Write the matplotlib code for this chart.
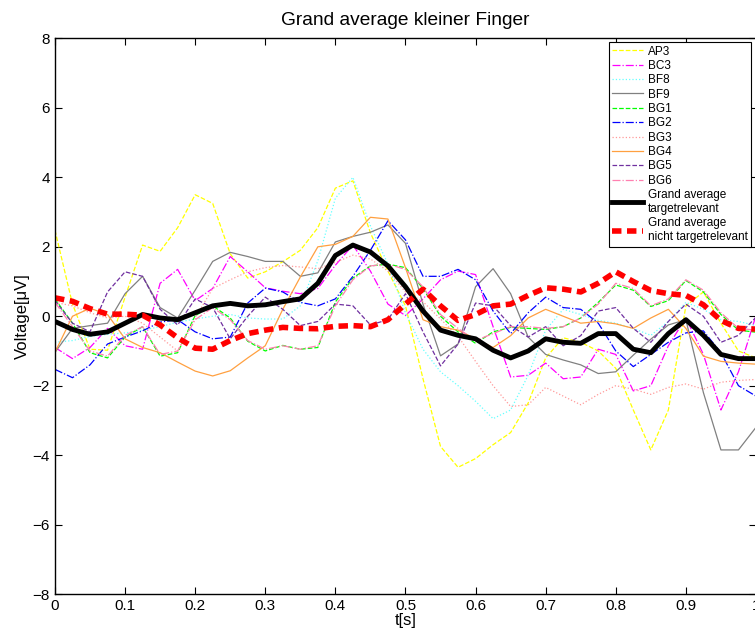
import matplotlib
matplotlib.use("Agg")
import matplotlib.pyplot as plt
import numpy as np

plt.rcParams["font.family"] = ["Liberation Sans", "DejaVu Sans"]

# time axis, sampled every 25 ms
t = np.linspace(0, 1, 41)

ap3 = [2.48, 0.35, -0.95, -0.98, 0.55, 2.05, 1.87, 2.55, 3.5, 3.25, 1.8, 1.1, 1.28, 1.57,
       1.9, 2.55, 3.69, 3.9, 2.4, 1.3, 0.3, -1.8, -3.75, -4.35, -4.1, -3.7, -3.35, -2.5,
       -1.2, -0.62, -0.75, -1.0, -1.5, -2.7, -3.85, -2.7, 0.3, 0.7, -0.2, -1.0, -1.2]
bc3 = [-0.9, -1.22, -0.9, -0.35, -0.85, -0.95, 0.95, 1.35, 0.45, 0.8, 1.72, 1.28, 0.82, 0.72,
       0.65, 0.8, 1.47, 2.05, 1.3, 0.35, 0.02, 0.5, 1.05, 1.3, 1.2, -0.3, -1.75, -1.7,
       -1.35, -1.8, -1.75, -0.95, -1.1, -2.15, -2.0, -0.85, -0.05, -1.1, -2.7, -1.6, 0.02]
bf8 = [-0.75, -0.7, -0.58, -0.52, -0.48, -0.4, -0.3, -0.17, -0.08, 0.0, 0.05, -0.05, -0.08, -0.08,
       0.3, 1.6, 3.4, 4.0, 2.6, 1.5, 0.1, -0.95, -1.6, -2.0, -2.45, -2.95, -2.7, -1.7,
       -0.4, 0.2, 0.05, -0.12, -0.2, -0.35, -0.55, -0.15, 0.4, 0.2, -0.1, -0.15, -0.27]
bf9 = [-1.04, -0.35, -0.27, -0.2, 0.65, 1.15, 0.25, -0.05, 0.75, 1.58, 1.84, 1.72, 1.58, 1.58,
       1.15, 1.25, 2.14, 2.3, 2.42, 2.63, 2.1, 0.35, -1.14, -0.8, 0.85, 1.37, 0.65, -0.6,
       -1.1, -1.26, -1.4, -1.65, -1.6, -1.12, -0.66, -0.25, -0.1, -2.2, -3.85, -3.85, -3.2]
bg1 = [0.5, -0.2, -1.05, -1.2, -0.6, -0.3, -1.15, -1.05, 0.02, 0.3, -0.05, -0.72, -1.0, -0.84,
       -0.95, -0.9, 0.41, 1.1, 1.45, 1.5, 1.4, 0.8, 0.0, -0.45, -0.78, -0.45, -0.32, -0.35,
       -0.38, -0.3, -0.05, 0.4, 0.9, 0.75, 0.28, 0.45, 1.03, 0.7, 0.05, -0.4, -0.46]
bg2 = [-1.53, -1.77, -1.4, -0.8, -0.6, -0.42, -0.17, -0.1, -0.45, -0.65, -0.6, 0.38, 0.81, 0.7,
       0.4, 0.3, 0.5, 1.15, 1.9, 2.75, 2.2, 1.15, 1.15, 1.35, 1.05, 0.15, -0.5, 0.1,
       0.55, 0.25, 0.2, -0.2, -1.0, -1.45, -1.1, -0.75, -0.48, -0.42, -1.05, -2.0, -2.3]
bg3 = [0.4, 0.3, 0.1, -0.05, 0.0, -0.2, -0.6, -1.0, -0.05, 0.8, 1.05, 1.28, 1.4, 1.46,
       1.42, 1.37, 1.55, 1.76, 1.65, 1.3, 0.7, 0.42, -0.08, -0.58, -1.3, -2.0, -2.6, -2.55,
       -2.05, -2.3, -2.55, -2.25, -2.0, -2.1, -2.25, -2.05, -1.95, -2.1, -1.9, -1.85, -1.82]
bg4 = [-1.04, 0.0, 0.23, 0.05, -0.65, -0.9, -1.05, -1.32, -1.58, -1.72, -1.57, -1.2, -0.85, 0.2,
       1.13, 2.0, 2.07, 2.3, 2.85, 2.8, 1.4, -0.1, -0.3, -0.4, -0.65, -0.9, -0.56, -0.05,
       0.2, 0.0, -0.2, -0.15, -0.22, -0.35, -0.05, 0.2, -0.35, -1.15, -1.3, -1.35, -1.38]
bg5 = [0.45, -0.2, -0.45, 0.7, 1.28, 1.15, 0.2, -0.25, 0.5, 0.25, -0.65, 0.0, 0.55, 0.2,
       -0.27, -0.15, 0.35, 0.3, -0.25, -0.1, 0.65, -0.45, -1.43, -0.8, 0.38, 0.3, -0.27, -0.6,
       -0.3, -0.85, -0.56, 0.15, 0.25, -0.35, -0.75, -0.15, 0.35, 0.0, -0.75, -0.55, -0.03]
bg6 = [0.4, -0.3, -1.0, -1.15, -0.55, -0.3, -1.1, -1.0, -0.1, 0.25, -0.1, -0.7, -0.95, -0.85,
       -0.95, -0.85, 0.3, 1.05, 1.45, 1.5, 1.35, 0.85, 0.05, -0.35, -0.7, -0.5, -0.3, -0.3,
       -0.35, -0.3, -0.05, 0.35, 0.95, 0.8, 0.3, 0.5, 1.05, 0.75, 0.1, -0.35, -0.4]
ga_target = [-0.15, -0.38, -0.52, -0.45, -0.2, 0.05, -0.05, -0.1, 0.1, 0.3, 0.37, 0.3, 0.33, 0.42,
             0.5, 0.95, 1.75, 2.05, 1.85, 1.45, 0.85, 0.15, -0.4, -0.55, -0.65, -0.98, -1.2, -1.0,
             -0.65, -0.75, -0.78, -0.5, -0.5, -0.95, -1.05, -0.5, -0.1, -0.55, -1.1, -1.22, -1.22]
ga_nontarget = [0.53, 0.43, 0.22, 0.06, 0.06, 0.03, -0.25, -0.62, -0.92, -0.95, -0.7, -0.5, -0.4, -0.32,
                -0.35, -0.36, -0.29, -0.27, -0.3, -0.1, 0.35, 0.78, 0.3, -0.12, 0.05, 0.3, 0.35, 0.6,
                0.82, 0.78, 0.7, 0.95, 1.28, 1.0, 0.74, 0.65, 0.6, 0.33, -0.12, -0.35, -0.37]

fig = plt.figure(figsize=(7.55, 6.33), dpi=100)
ax = fig.add_axes([0.0728, 0.0616, 0.9285, 0.8776])

# single subjects
ax.plot(t, ap3, color="#ffff00", ls="--", lw=0.9, label="AP3")
ax.plot(t, bc3, color="#ff00ff", ls="-.", lw=0.9, label="BC3")
ax.plot(t, bf8, color="#66ffff", ls=":", lw=0.9, label="BF8")
ax.plot(t, bf9, color="#808080", ls="-", lw=0.9, label="BF9")
ax.plot(t, bg1, color="#00ff00", ls="--", lw=0.9, label="BG1")
ax.plot(t, bg2, color="#0000ff", ls="-.", lw=0.9, label="BG2")
ax.plot(t, bg3, color="#ff9999", ls=":", lw=0.9, label="BG3")
ax.plot(t, bg4, color="#ffa040", ls="-", lw=0.9, label="BG4")
ax.plot(t, bg5, color="#7030a0", ls="--", lw=0.9, label="BG5")
ax.plot(t, bg6, color="#ff80b0", ls="-.", lw=0.9, label="BG6")

# grand averages
ax.plot(t, ga_target, color="black", ls="-", lw=3.5,
        label="Grand average\ntargetrelevant")
ax.plot(t, ga_nontarget, color="red", ls=(0, (1.7, 1.0)), lw=4, dash_capstyle="butt",
        label="Grand average\nnicht targetrelevant")

ax.set_xlim(0, 1)
ax.set_ylim(-8, 8)
ax.set_xticks(np.arange(0, 1.01, 0.1))
ax.set_xticklabels(["0", "0.1", "0.2", "0.3", "0.4", "0.5", "0.6", "0.7", "0.8", "0.9", "1"])
ax.set_yticks(np.arange(-8, 9, 2))
ax.tick_params(direction="in", top=True, right=True, length=5, width=0.8, labelsize=11)
for s in ax.spines.values():
    s.set_linewidth(1.0)

ax.set_title("Grand average kleiner Finger", fontsize=13.8, pad=10)
ax.set_xlabel("t[s]", fontsize=12, labelpad=0)
ax.set_ylabel("Voltage[\u03bcV]", fontsize=12, labelpad=2)

leg = ax.legend(loc="upper right", bbox_to_anchor=(751 / 755, 1 - 42 / 633),
                bbox_transform=fig.transFigure, borderaxespad=0, fontsize=8.5,
                fancybox=False, framealpha=1, edgecolor="black",
                handlelength=2.6, handletextpad=0.4, labelspacing=0.2,
                borderpad=0.3)
leg.get_frame().set_linewidth(0.8)

plt.savefig("out.png", dpi=100)
